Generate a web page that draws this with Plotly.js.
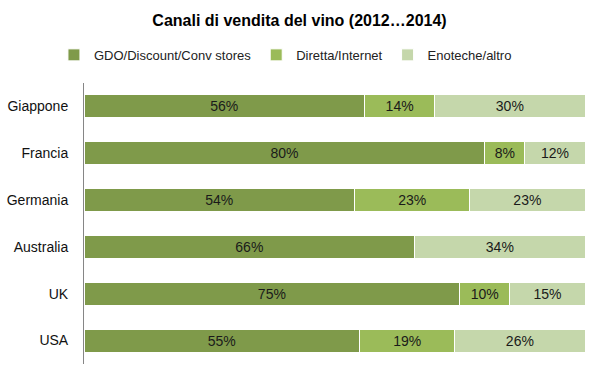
<!DOCTYPE html>
<html>
<head>
<meta charset="utf-8">
<script src="https://cdn.plot.ly/plotly-3.0.1.min.js"></script>
<style>html,body{margin:0;padding:0;background:#fff;}#chart{width:599px;height:379px;}</style>
</head>
<body>
<div id="chart"></div>
<script>
const categories = ["Giappone", "Francia", "Germania", "Australia", "UK", "USA"];
const seriesNames = ["GDO/Discount/Conv stores", "Diretta/Internet", "Enoteche/altro"];
const gdo = [56, 80, 54, 66, 75, 55];
const diretta = [14, 8, 23, 0, 10, 19];
const enoteche = [30, 12, 23, 34, 15, 26];
const colors = ["#7F9A4A", "#9BBB59", "#C5D7AB"];

const FONT = "'Liberation Sans', Arial, sans-serif";
const values = [gdo, diretta, enoteche];
const traces = values.map((vals, i) => ({
  type: "bar",
  orientation: "h",
  name: seriesNames[i],
  y: categories,
  x: vals,
  text: vals.map(v => v > 0 ? v + "%" : ""),
  textposition: "inside",
  insidetextanchor: "middle",
  textfont: {family: FONT, size: 14, color: "#1a1a1a"},
  marker: {color: colors[i], line: {color: "#ffffff", width: 1}},
  hoverinfo: "skip"
}));

const layout = {
  width: 599, height: 379,
  barmode: "stack",
  bargap: 0.51,
  margin: {l: 84, r: 14, t: 83, b: 15},
  paper_bgcolor: "#fff", plot_bgcolor: "#fff",
  title: {text: "<b>Canali di vendita del vino (2012…2014)</b>", x: 0.5, xanchor: "center", y: 0.947, yanchor: "middle", font: {family: FONT, size: 16, color: "#000"}},
  showlegend: true,
  legend: {orientation: "h", x: -0.06, xanchor: "left", y: 1.10, yanchor: "middle", font: {family: FONT, size: 13, color: "#222"}, itemwidth: 30, traceorder: "normal"},
  xaxis: {range: [0, 100], showgrid: false, zeroline: false, showticklabels: false, showline: false, fixedrange: true},
  yaxis: {autorange: "reversed", showgrid: false, zeroline: false, showline: true, linecolor: "#868686", linewidth: 1, ticks: "", tickfont: {family: FONT, size: 14, color: "#111"}, ticklabelstandoff: 12}
};

Plotly.newPlot("chart", traces, layout, {displayModeBar: false, staticPlot: true});
</script>
</body>
</html>
